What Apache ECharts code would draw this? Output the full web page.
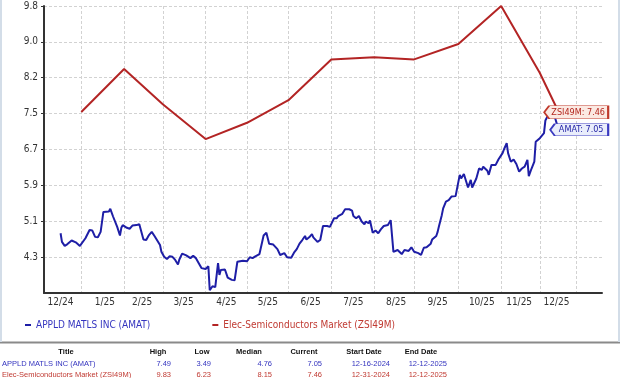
<!DOCTYPE html>
<html>
<head>
<meta charset="utf-8">
<script src="https://cdn.jsdelivr.net/npm/echarts@6/dist/echarts.min.js"></script>
<style>
  html, body { margin: 0; padding: 0; background: #fff; }
  #chart { width: 620px; height: 378px; }
</style>
</head>
<body>
<div id="chart"></div>
<script>
/* ================= data ================= */
const amatName = 'APPLD MATLS INC (AMAT)';
const zsiName = 'Elec-Semiconductors Market (ZSI49M)';

const amatDates = [
  '2024-12-16','2024-12-17','2024-12-19','2024-12-21','2024-12-24','2024-12-27','2024-12-30','2024-12-31',
  '2025-01-03','2025-01-06','2025-01-08','2025-01-10','2025-01-12','2025-01-14','2025-01-16','2025-01-20','2025-01-21','2025-01-23','2025-01-26','2025-01-28','2025-01-29','2025-01-30',
  '2025-02-02','2025-02-04','2025-02-06','2025-02-07','2025-02-09','2025-02-11','2025-02-12','2025-02-14','2025-02-16','2025-02-18','2025-02-20','2025-02-22','2025-02-24','2025-02-26','2025-02-27',
  '2025-03-01','2025-03-03','2025-03-05','2025-03-07','2025-03-09','2025-03-11','2025-03-12','2025-03-14','2025-03-17','2025-03-20','2025-03-22','2025-03-24','2025-03-28','2025-03-31',
  '2025-04-02','2025-04-03','2025-04-05','2025-04-07','2025-04-09','2025-04-10','2025-04-11','2025-04-14','2025-04-16','2025-04-19','2025-04-21','2025-04-23','2025-04-27','2025-04-30',
  '2025-05-02','2025-05-04','2025-05-06','2025-05-09','2025-05-12','2025-05-14','2025-05-16','2025-05-19','2025-05-22','2025-05-24','2025-05-27','2025-05-29',
  '2025-06-01','2025-06-03','2025-06-05','2025-06-07','2025-06-09','2025-06-11','2025-06-12','2025-06-14','2025-06-16','2025-06-17','2025-06-20','2025-06-22','2025-06-24','2025-06-27','2025-06-29',
  '2025-07-02','2025-07-04','2025-07-05','2025-07-08','2025-07-10','2025-07-13','2025-07-15','2025-07-16','2025-07-18','2025-07-20','2025-07-22','2025-07-24','2025-07-25','2025-07-27','2025-07-28','2025-07-30',
  '2025-08-01','2025-08-03','2025-08-05','2025-08-07','2025-08-10','2025-08-12','2025-08-14','2025-08-17','2025-08-20','2025-08-22','2025-08-25','2025-08-27','2025-08-29',
  '2025-09-01','2025-09-03','2025-09-05','2025-09-07','2025-09-10','2025-09-11','2025-09-14','2025-09-15','2025-09-16','2025-09-18','2025-09-19','2025-09-21','2025-09-23','2025-09-25','2025-09-28',
  '2025-10-01','2025-10-02','2025-10-04','2025-10-05','2025-10-07','2025-10-09','2025-10-10','2025-10-13','2025-10-15','2025-10-17','2025-10-18','2025-10-21','2025-10-22','2025-10-24','2025-10-25','2025-10-27','2025-10-29','2025-10-30',
  '2025-11-01','2025-11-02','2025-11-04','2025-11-05','2025-11-07','2025-11-09','2025-11-11','2025-11-13','2025-11-15','2025-11-17','2025-11-19','2025-11-20','2025-11-22','2025-11-24','2025-11-25','2025-11-28',
  '2025-12-01','2025-12-02','2025-12-04','2025-12-06','2025-12-09','2025-12-12'
];
const amatValues = [
  4.81,4.62,4.53,4.57,4.65,4.61,4.53,4.50,
  4.70,4.88,4.87,4.73,4.72,4.84,5.28,5.29,5.35,5.18,4.95,4.76,4.93,4.99,
  4.93,4.91,4.98,4.95,4.99,5.01,5.02,4.67,4.66,4.77,4.84,4.75,4.65,4.55,4.40,
  4.29,4.24,4.30,4.29,4.22,4.12,4.23,4.36,4.32,4.26,4.31,4.26,4.04,4.02,
  4.08,3.55,3.64,3.62,4.15,3.89,4.00,4.01,3.83,3.78,3.77,4.18,4.20,4.19,
  4.28,4.26,4.30,4.35,4.76,4.82,4.58,4.56,4.46,4.33,4.37,4.28,
  4.27,4.38,4.46,4.58,4.66,4.75,4.67,4.72,4.79,4.72,4.62,4.66,4.97,4.97,4.95,
  5.14,5.14,5.19,5.24,5.34,5.34,5.31,5.19,5.14,5.19,5.07,5.01,5.07,5.03,5.09,4.82,
  4.87,4.81,4.90,4.97,4.99,5.10,4.40,4.44,4.35,4.44,4.42,4.50,4.40,
  4.37,4.33,4.49,4.50,4.58,4.67,4.75,4.84,4.97,5.21,5.36,5.51,5.54,5.62,5.63,
  6.10,6.02,6.12,6.10,5.82,5.99,5.82,6.02,6.24,6.21,6.28,6.19,6.10,6.32,6.36,6.32,6.44,6.43,
  6.58,6.66,6.80,6.58,6.39,6.44,6.34,6.17,6.24,6.28,6.43,6.07,6.24,6.39,6.83,6.91,
  7.02,7.30,7.42,7.49,7.36,7.05
];

// monthly market index
const zsiDates = ['2024-12-31','2025-01-31','2025-02-28','2025-03-31','2025-04-30','2025-05-30',
                  '2025-06-30','2025-07-31','2025-08-29','2025-09-30','2025-10-31','2025-11-28','2025-12-12'];
const zsiValues = [7.49, 8.44, 7.66, 6.89, 7.25, 7.75, 8.65, 8.70, 8.65, 8.99, 9.83, 8.35, 7.46];

// x axis: where the month labels sit and where the month grid lines are
const tickLabelDates = ['2024-12-16','2025-01-17','2025-02-13','2025-03-15','2025-04-15','2025-05-15',
                        '2025-06-15','2025-07-16','2025-08-16','2025-09-15','2025-10-17','2025-11-13','2025-12-10'];
const gridDates = ['2024-12-31','2025-01-31','2025-02-28','2025-03-31','2025-04-30','2025-05-30',
                   '2025-06-30','2025-07-31','2025-08-29','2025-09-30','2025-10-31','2025-11-28','2025-12-24'];

// y axis
const yMin = 3.49, yMax = 9.83;
const yTickValues = [4.28, 5.07, 5.87, 6.66, 7.45, 8.25, 9.04, 9.83];
const yTickLabels = ['4.3', '5.1', '5.9', '6.7', '7.5', '8.2', '9.0', '9.8'];

// summary table
const statTitles  = [amatName, zsiName];
const statHigh    = ['7.49', '9.83'];
const statLow     = ['3.49', '6.23'];
const statMedian  = ['4.76', '8.15'];
const statCurrent = ['7.05', '7.46'];
const statStart   = ['12-16-2024', '12-31-2024'];
const statEnd     = ['12-12-2025', '12-12-2025'];

/* ================= helpers ================= */
function buildDays(start, end) {
  const out = [];
  const d = new Date(start + 'T00:00:00Z');
  const last = new Date(end + 'T00:00:00Z');
  while (d <= last) {
    out.push(d.toISOString().slice(0, 10));
    d.setUTCDate(d.getUTCDate() + 1);
  }
  return out;
}
const days = buildDays('2024-12-04', '2026-01-12');
const idx = d => days.indexOf(d);

const BLUE = '#1e1ea6';
const RED = '#b32424';
const BLUE_TXT = '#3434bf';
const RED_TXT = '#c03a32';
const FONT = '"DejaVu Sans Condensed", "DejaVu Sans", sans-serif';
const TFONT = '"Liberation Sans", Arial, sans-serif';

const amatData = amatDates.map((d, i) => [idx(d), amatValues[i]]);
const zsiData = zsiDates.map((d, i) => [idx(d), zsiValues[i]]);

/* ================= table (graphic) ================= */
const tableEls = [];
const headY = 352, rowY = [363.5, 375];
const cols = [
  { head: 'Title',      hx: 66,  vals: statTitles,  vx: 2,   align: 'left' },
  { head: 'High',       hx: 158, vals: statHigh,    vx: 171, align: 'right' },
  { head: 'Low',        hx: 202, vals: statLow,     vx: 211, align: 'right' },
  { head: 'Median',     hx: 249, vals: statMedian,  vx: 272, align: 'right' },
  { head: 'Current',    hx: 304, vals: statCurrent, vx: 322, align: 'right' },
  { head: 'Start Date', hx: 364, vals: statStart,   vx: 390, align: 'right' },
  { head: 'End Date',   hx: 421, vals: statEnd,     vx: 447, align: 'right' }
];
cols.forEach(c => {
  tableEls.push({
    type: 'text', silent: true,
    style: { text: c.head, x: c.hx, y: headY, fill: '#111', font: 'bold 7.5px ' + TFONT,
             align: 'center', textAlign: 'center', verticalAlign: 'middle', textVerticalAlign: 'middle' }
  });
  c.vals.forEach((v, r) => {
    tableEls.push({
      type: 'text', silent: true,
      style: { text: v, x: c.vx, y: rowY[r], fill: r === 0 ? BLUE_TXT : RED_TXT, font: '7.5px ' + TFONT,
               align: c.align, textAlign: c.align, verticalAlign: 'middle', textVerticalAlign: 'middle' }
    });
  });
});
// underline under the market title
tableEls.push({ type: 'line', silent: true, shape: { x1: 2, y1: 380, x2: 134, y2: 380 },
                style: { stroke: RED_TXT, lineWidth: 1 } });
// separator above table
tableEls.push({ type: 'line', silent: true, shape: { x1: 0, y1: 342.5, x2: 620, y2: 342.5 },
                style: { stroke: '#8a8a8a', lineWidth: 2 } });
// frame edges
tableEls.push({ type: 'line', silent: true, shape: { x1: 1, y1: 0, x2: 1, y2: 342 },
                style: { stroke: '#d3dde8', lineWidth: 2 } });
tableEls.push({ type: 'line', silent: true, shape: { x1: 619, y1: 0, x2: 619, y2: 342 },
                style: { stroke: '#d3dde8', lineWidth: 2 } });

/* ================= chart ================= */
const chart = echarts.init(document.getElementById('chart'));

const tagPath = 'path://M0,6.5 L5,0 L64,0 L64,13 L5,13 Z';

chart.setOption({
  animation: false,
  backgroundColor: '#fff',
  grid: { left: 44, right: 18, top: 6, bottom: 85 },
  legend: {
    left: 20, top: 315,
    icon: 'rect', itemWidth: 6, itemHeight: 2, itemGap: 62,
    selectedMode: false,
    textStyle: { fontFamily: FONT, fontSize: 10 },
    data: [
      { name: amatName, textStyle: { color: BLUE_TXT } },
      { name: zsiName, textStyle: { color: RED_TXT } }
    ]
  },
  xAxis: {
    type: 'category',
    data: days,
    boundaryGap: false,
    axisLine: { lineStyle: { color: '#333', width: 2 } },
    axisTick: { show: false },
    axisLabel: {
      interval: (i, v) => tickLabelDates.includes(v),
      formatter: v => (+v.slice(5, 7)) + '/' + v.slice(2, 4),
      color: '#333', fontFamily: FONT, fontSize: 10, margin: 4
    },
    splitLine: {
      show: true,
      interval: (i, v) => gridDates.includes(v),
      lineStyle: { color: '#d2d2d2', type: [3, 2], width: 1 }
    }
  },
  yAxis: {
    type: 'value',
    min: yMin, max: yMax,
    axisLine: { show: true, lineStyle: { color: '#333', width: 2 } },
    axisTick: { show: true, length: 3, customValues: yTickValues, lineStyle: { color: '#333' } },
    axisLabel: {
      customValues: yTickValues,
      formatter: v => {
        const k = yTickValues.findIndex(t => Math.abs(t - v) < 1e-6);
        return k < 0 ? '' : yTickLabels[k];
      },
      color: '#333', fontFamily: FONT, fontSize: 10, margin: 6
    },
    splitLine: { show: true, lineStyle: { color: '#d2d2d2', type: [3, 2], width: 1 } }
  },
  graphic: { elements: tableEls },
  series: [
    {
      name: amatName,
      type: 'line',
      data: amatData,
      showSymbol: false,
      color: BLUE,
      lineStyle: { color: BLUE, width: 2 },
      z: 3,
      markPoint: {
        z: 10,
        symbol: tagPath,
        symbolSize: [58, 12],
        symbolOffset: [20, -2],
        itemStyle: { color: '#e9edfb', borderColor: '#3a3ac0', borderWidth: 1 },
        label: {
          show: true, position: 'inside', offset: [2, 0],
          formatter: 'AMAT: ' + statCurrent[0],
          color: '#2323a6', fontFamily: FONT, fontSize: 9
        },
        data: [{ coord: amatData[amatData.length - 1] }]
      }
    },
    {
      name: zsiName,
      type: 'line',
      data: zsiData,
      showSymbol: false,
      color: RED,
      lineStyle: { color: RED, width: 2 },
      z: 4,
      markPoint: {
        z: 11,
        symbol: tagPath,
        symbolSize: [64, 13],
        symbolOffset: [17, -1],
        itemStyle: { color: '#fbe9e2', borderColor: '#c0392b', borderWidth: 1 },
        label: {
          show: true, position: 'inside', offset: [2, 0],
          formatter: 'ZSI49M: ' + statCurrent[1],
          color: '#b3261e', fontFamily: FONT, fontSize: 9
        },
        data: [{ coord: zsiData[zsiData.length - 1] }]
      }
    }
  ]
});
</script>
</body>
</html>
